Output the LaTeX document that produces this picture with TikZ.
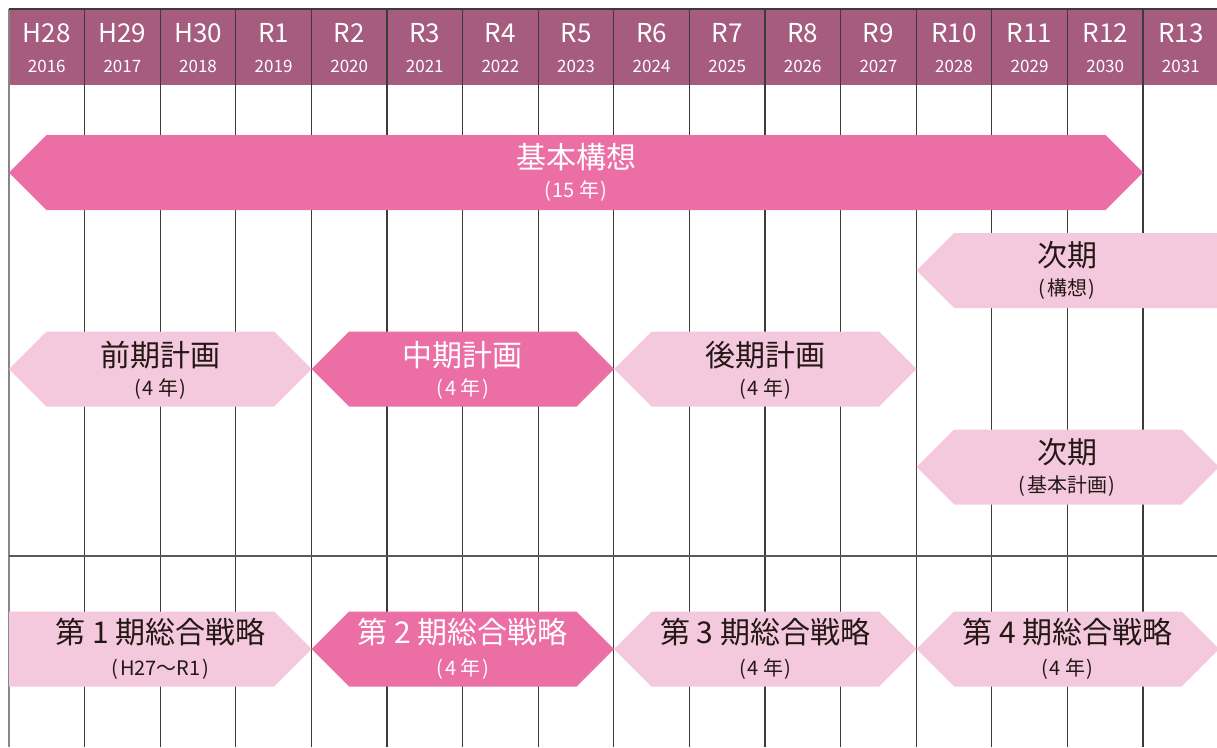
\documentclass[tikz,border=0pt]{standalone}
\usepackage{fontspec}
\setmainfont{Noto Sans CJK JP}
\definecolor{hdr}{HTML}{A65C7E}
\definecolor{dpink}{HTML}{EB6EA5}
\definecolor{lpink}{HTML}{F5C9DD}
\definecolor{inkc}{HTML}{231815}
\definecolor{gline}{HTML}{3E3A39}
\definecolor{lgline}{HTML}{8A8686}
\tikzset{
  hdtxt/.style={text=white,font=\fontsize{26}{26}\selectfont,inner sep=0pt},
  yrtxt/.style={text=white,font=\fontsize{17}{17}\selectfont,inner sep=0pt},
  ttl/.style={font=\fontsize{30}{30}\selectfont,inner sep=0pt},
  subt/.style={font=\fontsize{20}{20}\selectfont,inner sep=0pt},
  ondark/.style={text=white},
  onlight/.style={text=inkc},
  gridline/.style={draw=gline,line width=1.1pt},
  edgeline/.style={draw=lgline,line width=1.1pt},
  sepline/.style={draw=gline!85,line width=1.1pt},
}
\newcommand{\po}{(\hspace{1.5pt}}
\newcommand{\pc}{\hspace{1.5pt})}
% hexagon: left tip x1, right tip x2, centre y, fill colour
\newcommand{\hexa}[4]{\fill[#4] (#1,#3) -- ({#1+37.5},{#3-37.5}) -- ({#2-37.5},{#3-37.5}) -- (#2,#3) -- ({#2-37.5},{#3+37.5}) -- ({#1+37.5},{#3+37.5}) -- cycle;}
\begin{document}
\begin{tikzpicture}[x=1pt,y=-1pt]
\useasboundingbox (0,0) rectangle (1217,747);
\def\cw{75.6}
% header band
\fill[hdr] (9,9) rectangle (1217,85);
% grid
\foreach \i in {1,...,15}
  \draw[gridline] ({9+\cw*\i},9) -- ({9+\cw*\i},747);
\draw[edgeline] (9,9) -- (9,747);
\draw[gridline] (9,9) -- (1217,9);
\draw[sepline] (9,556) -- (1217,556);
% header texts
\foreach \i/\a/\b in {0/H28/2016,1/H29/2017,2/H30/2018,3/R1/2019,4/R2/2020,5/R3/2021,6/R4/2022,7/R5/2023,8/R6/2024,9/R7/2025,10/R8/2026,11/R9/2027,12/R10/2028,13/R11/2029,14/R12/2030,15/R13/2031}{
  \node[hdtxt] (era\i) at ({9+\cw*(\i+0.5)},33) {\a};
  \node[yrtxt] (yr\i) at ({9+\cw*(\i+0.5)},66.5) {\b};
}
% shapes
\hexa{9}{1143}{172.5}{dpink}
\fill[lpink] (916.7,270.5) -- (954.2,233) -- (1217,233) -- (1217,308) -- (954.2,308) -- cycle;
\hexa{9}{311.7}{369}{lpink}
\hexa{311.7}{614}{369}{dpink}
\hexa{614}{916.7}{369}{lpink}
\hexa{916.7}{1219}{467}{lpink}
\fill[lpink] (9,611.5) -- (274.2,611.5) -- (311.7,649) -- (274.2,686.5) -- (9,686.5) -- cycle;
\hexa{311.7}{614}{649}{dpink}
\hexa{614}{916.7}{649}{lpink}
\hexa{916.7}{1219}{649}{lpink}
% texts
\node[ttl,ondark] (kihon) at (576,157) {基本構想};
\node[subt,ondark] (kihons) at (576,191.5) {\po 15 年\pc};
\node[ttl,onlight] (jiki1) at (1067,255.5) {次期};
\node[subt,onlight] (jiki1s) at (1067,289) {\po 構想\pc};
\node[ttl,onlight] (zenki) at (160.4,355) {前期計画};
\node[subt,onlight] (zenkis) at (160.4,389) {\po 4 年\pc};
\node[ttl,ondark] (chuki) at (462.9,355) {中期計画};
\node[subt,ondark] (chukis) at (462.9,389) {\po 4 年\pc};
\node[ttl,onlight] (koki) at (765.2,355) {後期計画};
\node[subt,onlight] (kokis) at (765.2,389) {\po 4 年\pc};
\node[ttl,onlight] (jiki2) at (1067,452) {次期};
\node[subt,onlight] (jiki2s) at (1067,486) {\po 基本計画\pc};
\node[ttl,onlight] (s1) at (160.4,632) {第 1 期総合戦略};
\node[subt,onlight] (s1s) at (160.4,669) {\po H27～R1\pc};
\node[ttl,ondark] (s2) at (462.9,632) {第 2 期総合戦略};
\node[subt,ondark] (s2s) at (462.9,669) {\po 4 年\pc};
\node[ttl,onlight] (s3) at (765.2,632) {第 3 期総合戦略};
\node[subt,onlight] (s3s) at (765.2,669) {\po 4 年\pc};
\node[ttl,onlight] (s4) at (1067.5,632) {第 4 期総合戦略};
\node[subt,onlight] (s4s) at (1067.5,669) {\po 4 年\pc};
\end{tikzpicture}
\end{document}
